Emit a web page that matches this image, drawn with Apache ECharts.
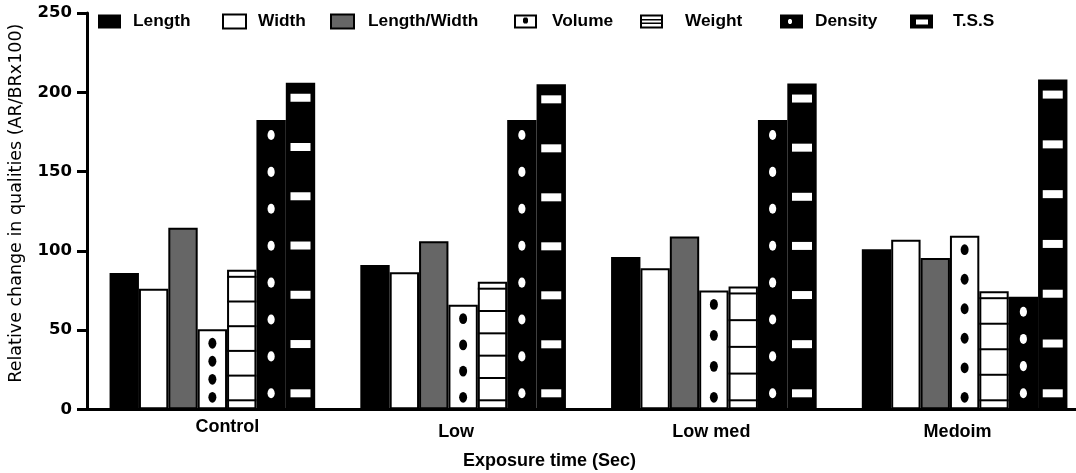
<!DOCTYPE html>
<html>
<head>
<meta charset="utf-8">
<script src="https://cdn.jsdelivr.net/npm/echarts@6/dist/echarts.min.js"></script>
<style>html,body{margin:0;padding:0;background:#fff}#c{width:1076px;height:473px}</style>
</head>
<body>
<div id="c"></div>
<script>
// ---- data ----
const categories = ['Control', 'Low', 'Low med', 'Medoim'];
const lengthVals = [86, 91, 96, 101];
const widthVals = [76, 86.5, 89, 107];
const lengthWidthVals = [114.5, 106, 109, 95.5];
const volumeVals = [50.5, 66, 75, 109.5];
const weightVals = [88, 80.5, 77.5, 74.5];
const densityVals = [182.5, 182.5, 182.5, 71];
const tssVals = [206, 205, 205.5, 208];
const seriesNames = ['Length', 'Width', 'Length/Width', 'Volume', 'Weight', 'Density', 'T.S.S'];
const yMin = 0, yMax = 250, yStep = 50;

// ---- layout / style ----
const N = 7, GAP = 0.18;
const LAB = 'Liberation Sans, Arial, sans-serif';
const DV = 'DejaVu Sans, sans-serif';

function geom(api, k) {
  const i = api.value(0), v = api.value(1);
  const band = api.size([1, 0])[0];
  const bw = band * (1 - GAP) / N;
  const c = api.coord([i, 0]);
  const top = api.coord([i, v])[1];
  return { x: c[0] - N * bw / 2 + k * bw, w: bw, base: c[1], top: top };
}
function spread(a, b, n) {
  const out = [];
  if (n <= 1) { out.push((a + b) / 2); return out; }
  for (let j = 0; j < n; j++) out.push(a + (b - a) * j / (n - 1));
  return out;
}
const deco = {
  3: function (g) { // Volume: black dots
    const n = (g.base - g.top) < 140 ? 4 : 6;
    return spread(g.top + 14, g.base - 12, n).map(y => ({
      type: 'circle', x: g.x + g.w / 2, y: y, scaleY: 1.35,
      shape: { cx: 0, cy: 0, r: 4 }, style: { fill: '#000' }
    }));
  },
  4: function (g) { // Weight: horizontal lines
    const a = g.top + 7, b = g.base - 9;
    const n = Math.round((b - a) / 24) + 1;
    return spread(a, b, n).map(y => ({
      type: 'rect', shape: { x: g.x, y: y - 1, width: g.w, height: 2 }, style: { fill: '#000' }
    }));
  },
  5: function (g) { // Density: white dots
    const a = g.top + 15, b = g.base - 16;
    const n = Math.ceil((b - a) / 37.5) + 1;
    return spread(a, b, n).map(y => ({
      type: 'circle', x: g.x + g.w / 2, y: y, scaleY: 1.4,
      shape: { cx: 0, cy: 0, r: 3.6 }, style: { fill: '#fff' }
    }));
  },
  6: function (g) { // TSS: white dashes
    const a = g.top + 15, b = g.base - 16;
    const n = Math.round((b - a) / 49) + 1;
    return spread(a, b, n).map(y => ({
      type: 'rect', shape: { x: g.x + g.w / 2 - 10, y: y - 4, width: 20, height: 8 }, style: { fill: '#fff' }
    }));
  }
};

const allVals = [lengthVals, widthVals, lengthWidthVals, volumeVals, weightVals, densityVals, tssVals];
const barStyles = [
  { color: '#000', borderColor: '#000', borderWidth: 0 },
  { color: '#fff', borderColor: '#000', borderWidth: 2 },
  { color: '#666', borderColor: '#000', borderWidth: 2 },
  { color: '#fff', borderColor: '#000', borderWidth: 2 },
  { color: '#fff', borderColor: '#000', borderWidth: 2 },
  { color: '#000', borderColor: '#000', borderWidth: 0 },
  { color: '#000', borderColor: '#000', borderWidth: 0 }
];

const series = [];
allVals.forEach((vals, k) => {
  series.push({
    name: seriesNames[k], type: 'bar', data: vals,
    barGap: '0%', barCategoryGap: (GAP * 100) + '%',
    itemStyle: barStyles[k], silent: true, z: 2
  });
});
[3, 4, 5, 6].forEach(k => {
  series.push({
    name: seriesNames[k], type: 'custom', silent: true, z: 3,
    data: allVals[k].map((v, i) => [i, v]),
    encode: { x: 0, y: 1 },
    renderItem: function (params, api) {
      return { type: 'group', children: deco[k](geom(api, k)) };
    }
  });
});

// legend icons
const ring = 'M0 0H23V14H0Z M2 2V12H21V2Z';
const icons = [
  { icon: 'rect', itemStyle: { color: '#000', borderWidth: 0 } },
  { icon: 'rect', itemStyle: { color: '#fff', borderColor: '#000', borderWidth: 2 } },
  { icon: 'rect', itemStyle: { color: '#666', borderColor: '#000', borderWidth: 2 } },
  { icon: 'path://' + ring + ' M10 3L13 3L14 4.5L14 7.5L13 9L10 9L9 7.5L9 4.5Z', itemStyle: { color: '#000', borderWidth: 0 } },
  { icon: 'path://' + ring + ' M2 4.6H21V6.1H2Z M2 7.9H21V9.4H2Z', itemStyle: { color: '#000', borderWidth: 0 } },
  { icon: 'path://M0 0H23V14H0Z M9 4.5L8 6L8 8L9 9.5L11 9.5L12 8L12 6L11 4.5Z', itemStyle: { color: '#000', borderWidth: 0 } },
  { icon: 'path://M0 0H23V14H0Z M6 5V10H18V5Z', itemStyle: { color: '#000', borderWidth: 0 } }
];
const legendLeft = [98, 222, 330, 514, 640, 780, 910];
const legendPad = [7, 7, 9, 10, 17, 7, 15];
const legends = seriesNames.map((nm, k) => ({
  data: [Object.assign({ name: nm }, icons[k])],
  left: legendLeft[k], top: 13, padding: 0, itemWidth: 23, itemHeight: 14,
  selectedMode: false,
  formatter: '{t|{name}}',
  textStyle: {
    color: '#000', fontFamily: LAB, fontSize: 17.3, fontWeight: 'bold',
    rich: { t: { color: '#000', fontFamily: LAB, fontSize: 17.3, fontWeight: 'bold', padding: [0, 0, 0, legendPad[k]] } }
  }
}));

// x-label offsets
const labRich = {
  c0: { padding: [0, 0, 0, 30] },
  c1: { padding: [5, 14, 0, 0] },
  c2: { padding: [5, 5, 0, 0] },
  c3: { padding: [5, 14, 0, 0] }
};
Object.keys(labRich).forEach(k => Object.assign(labRich[k], { fontFamily: LAB, fontSize: 18, fontWeight: 'bold', color: '#000' }));

const option = {
  backgroundColor: '#fff',
  animation: false,
  legend: legends,
  grid: { left: 87, width: 1003, top: 13, bottom: 63.7, containLabel: false, outerBoundsMode: 'none' },
  xAxis: {
    type: 'category', data: categories,
    axisLine: { lineStyle: { color: '#000', width: 3 } },
    axisTick: { show: false },
    axisLabel: {
      margin: 9, formatter: (v, i) => '{c' + i + '|' + v + '}', rich: labRich,
      color: '#000', fontFamily: LAB, fontSize: 18, fontWeight: 'bold'
    },
    name: 'Exposure time (Sec)', nameLocation: 'middle', nameGap: 43, nameMoveOverlap: false,
    nameTextStyle: { color: '#000', fontFamily: LAB, fontSize: 18, fontWeight: 'bold', padding: [0, 78, 0, 0] }
  },
  yAxis: {
    type: 'value', min: yMin, max: yMax, interval: yStep,
    axisLine: { show: true, lineStyle: { color: '#000', width: 3 } },
    axisTick: { show: true, length: 10, lineStyle: { color: '#000', width: 3 } },
    splitLine: { show: false },
    axisLabel: { margin: 15, color: '#000', fontFamily: DV, fontSize: 16.5, fontWeight: 'bold' },
    name: 'Relative change in qualities (AR/BRx100)', nameLocation: 'middle', nameGap: 62, nameRotate: 90,
    nameMoveOverlap: false,
    nameTextStyle: { color: '#000', fontFamily: DV, fontSize: 17.5, padding: [0, 0, 0, 16] }
  },
  series: series
};
const chart = echarts.init(document.getElementById('c'), null, { renderer: 'canvas' });
chart.setOption(option);
</script>
</body>
</html>
